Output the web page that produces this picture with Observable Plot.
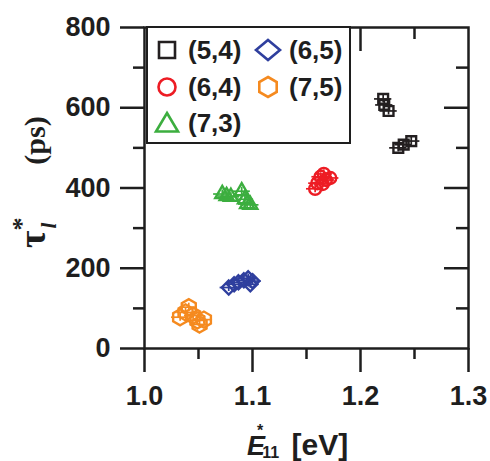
<!DOCTYPE html>
<html><head><meta charset="utf-8">
<script src="https://cdn.jsdelivr.net/npm/d3@7"></script>
<script src="https://cdn.jsdelivr.net/npm/@observablehq/plot@0.6"></script>
<style>html,body{margin:0;padding:0;background:#fff}</style>
</head><body><div id="chart"></div>
<script>
// ---- data ----
const labels = ["(5,4)", "(6,4)", "(7,3)", "(6,5)", "(7,5)"];
const colors = ["#231f20", "#ed1c24", "#3cae3f", "#2f3f9e", "#f58a1f"];
const symbols = ["square", "circle", "triangle", "diamond2", "hexagon"];

const x54 = [1.221, 1.222, 1.226, 1.235, 1.240, 1.247];
const y54 = [622, 607, 592, 500, 508, 517];
const x64 = [1.158, 1.160, 1.163, 1.166, 1.168, 1.172, 1.165];
const y64 = [398, 412, 428, 435, 420, 425, 410];
const x73 = [1.072, 1.076, 1.080, 1.090, 1.093, 1.095, 1.098];
const y73 = [385, 380, 378, 392, 372, 360, 358];
const x65 = [1.078, 1.083, 1.087, 1.092, 1.096, 1.100, 1.098];
const y65 = [152, 160, 165, 170, 175, 168, 160];
const x75 = [1.041, 1.038, 1.033, 1.045, 1.049, 1.055, 1.051];
const y75 = [103, 90, 78, 82, 70, 72, 60];
const xErr = 0.008, yErr = 10;

const xMajor = [1.0, 1.1, 1.2, 1.3];
const xMinor = [1.05, 1.15, 1.25];
const yMajor = [0, 200, 400, 600, 800];
const yMinor = [100, 300, 500, 700];

const seriesX = [x54, x64, x73, x65, x75];
const seriesY = [y54, y64, y73, y65, y75];
const radii = [5.5, 6, 5.2, 6.3, 7];

const W = 490, H = 461, mL = 144, mR = 22, mT = 27, mB = 113;
const innerW = W - mL - mR, innerH = H - mT - mB;
const ink = "#1e1e1e";
const sans = "'Liberation Sans', Arial, sans-serif";

const marks = [];
seriesX.forEach((xs, i) => {
  const data = xs.map((x, j) => ({x, y: seriesY[i][j]}));
  marks.push(Plot.ruleY(data, {y: "y", x1: d => d.x - xErr, x2: d => d.x + xErr, stroke: colors[i], strokeWidth: 1.7}));
  marks.push(Plot.ruleX(data, {x: "x", y1: d => d.y - yErr, y2: d => d.y + yErr, stroke: colors[i], strokeWidth: 1.7}));
  marks.push(Plot.dot(data, {x: "x", y: "y", symbol: symbols[i], r: radii[i], stroke: colors[i], strokeWidth: 2.4, fill: "none"}));
});

const axisText = {fontSize: 27, fontWeight: "bold"};
marks.push(
  Plot.axisX({ticks: xMajor, tickSize: 24, tickPadding: 13, tickFormat: d3.format(".1f"), label: null, strokeWidth: 2.5, ...axisText}),
  Plot.axisX({ticks: xMinor, tickSize: 11, tickFormat: () => "", label: null, strokeWidth: 2.5}),
  Plot.axisY({ticks: yMajor, tickSize: 24, tickPadding: 10, label: null, strokeWidth: 2.5, ...axisText}),
  Plot.axisY({ticks: yMinor, tickSize: 11, tickFormat: () => "", label: null, strokeWidth: 2.5}),
  Plot.ruleX(xMajor.slice(1, -1), {insetBottom: innerH - 24, strokeWidth: 2.5, stroke: ink}),
  Plot.ruleX(xMinor, {insetBottom: innerH - 12, strokeWidth: 2.5, stroke: ink}),
  Plot.ruleY(yMajor.slice(1, -1), {insetLeft: innerW - 24, strokeWidth: 2.5, stroke: ink}),
  Plot.ruleY(yMinor, {insetLeft: innerW - 12, strokeWidth: 2.5, stroke: ink}),
  Plot.frame({stroke: ink, strokeWidth: 2.5})
);

const chart = Plot.plot({
  width: W, height: H,
  marginLeft: mL, marginRight: mR, marginTop: mT, marginBottom: mB,
  x: {domain: [1.0, 1.3]},
  y: {domain: [0, 800]},
  style: {fontFamily: sans, fontWeight: "bold", color: ink, background: "white", overflow: "visible"},
  marks
});
document.getElementById("chart").appendChild(chart);

// ---- legend ----
const svg = d3.select(chart);
const lg = svg.append("g");
lg.append("rect").attr("x", 147).attr("y", 27).attr("width", 203).attr("height", 116)
  .attr("fill", "white").attr("stroke", ink).attr("stroke-width", 2);
const legendPos = [[167, 50], [167, 87], [167, 123], [268, 50], [268, 87]];
const legendPaths = [
  "M-8,-8H8V8H-8Z",
  "M8.5,0A8.5,8.5 0 1,1 -8.5,0A8.5,8.5 0 1,1 8.5,0Z",
  "M0,-10L11,8.5H-11Z",
  "M0,-10L12,0L0,10L-12,0Z",
  "M0,-10L8.7,-5L8.7,5L0,10L-8.7,5L-8.7,-5Z"
];
labels.forEach((lab, i) => {
  const [cx, cy] = legendPos[i];
  lg.append("path").attr("d", legendPaths[i]).attr("transform", `translate(${cx},${cy})`)
    .attr("fill", "none").attr("stroke", colors[i]).attr("stroke-width", 2.6);
  lg.append("text").attr("x", cx + 21).attr("y", cy + 9).attr("text-anchor", "start")
    .attr("font-size", 26).attr("font-weight", "bold").attr("fill", ink)
    .attr("font-family", sans).text(lab);
});

// ---- axis titles ----
const yl = svg.append("text").attr("transform", "translate(45,248) rotate(-90)")
  .attr("text-anchor", "start")
  .attr("font-family", "'Liberation Serif', 'Times New Roman', serif").attr("font-weight", "bold")
  .attr("font-size", 38).attr("fill", ink);
yl.append("tspan").text("τ");
yl.append("tspan").attr("dy", -15).attr("font-size", 26).text("*");
yl.append("tspan").attr("dx", -11).attr("dy", 26).attr("font-size", 21).attr("font-style", "italic").text("l");
yl.append("tspan").attr("dx", 58).attr("dy", -11).attr("font-size", 30).text("(ps)");

const xl = svg.append("text").attr("x", 247).attr("y", 455).attr("text-anchor", "start")
  .attr("font-family", sans).attr("font-weight", "bold")
  .attr("font-size", 27).attr("fill", ink);
xl.append("tspan").attr("font-style", "italic").text("E");
xl.append("tspan").attr("dx", -8).attr("dy", -19).attr("font-size", 16).text("*");
xl.append("tspan").attr("dx", -1).attr("dy", 22).attr("font-size", 16).text("11");
xl.append("tspan").attr("dx", 4).attr("dy", -3).attr("font-size", 30).text(" [eV]");
</script></body></html>
